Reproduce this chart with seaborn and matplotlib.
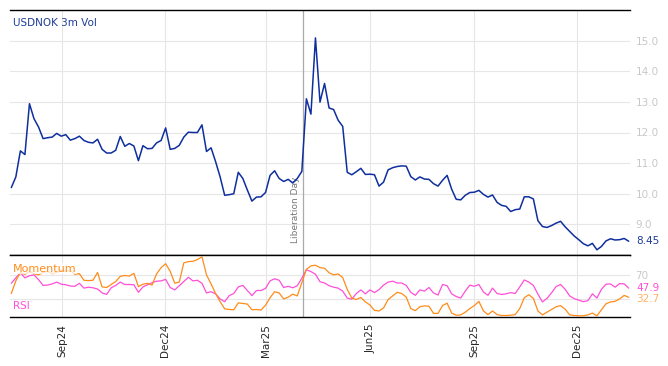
import pandas as pd
import matplotlib.pyplot as plt
import matplotlib.dates as mdates
import matplotlib.transforms as mtransforms
import seaborn as sns

# data, one point roughly every 4 days
start_date = '2024-07-18'
end_date = '2026-01-16'

vol = [10.2, 10.55, 11.4, 11.28, 12.94, 12.45, 12.18, 11.8, 11.83, 11.85,
       11.97, 11.88, 11.93, 11.75, 11.8, 11.88, 11.74, 11.68, 11.66, 11.78,
       11.45, 11.33, 11.33, 11.42, 11.87, 11.55, 11.64, 11.56, 11.08, 11.57,
       11.47, 11.48, 11.66, 11.74, 12.15, 11.45, 11.48, 11.58, 11.85, 12.01,
       12.0, 12.0, 12.25, 11.38, 11.5, 11.05, 10.55, 9.95, 9.97, 10.0,
       10.7, 10.5, 10.12, 9.76, 9.89, 9.9, 10.04, 10.6, 10.75, 10.5,
       10.4, 10.47, 10.35, 10.5, 10.73, 13.1, 12.6, 15.09, 12.99, 13.6,
       12.8, 12.75, 12.4, 12.2, 10.7, 10.62, 10.72, 10.83, 10.63, 10.64,
       10.62, 10.25, 10.38, 10.78, 10.85, 10.89, 10.91, 10.9, 10.56, 10.45,
       10.55, 10.48, 10.47, 10.33, 10.25, 10.44, 10.6, 10.15, 9.82, 9.8,
       9.95, 10.04, 10.05, 10.11, 9.98, 9.89, 9.96, 9.72, 9.62, 9.59,
       9.42, 9.48, 9.5, 9.9, 9.9, 9.83, 9.12, 8.93, 8.9, 8.96,
       9.04, 9.1, 8.92, 8.77, 8.62, 8.5, 8.37, 8.3, 8.38, 8.17,
       8.28, 8.46, 8.53, 8.49, 8.5, 8.54, 8.45]

rsi = [56, 65, 73.5, 65, 68.5, 70, 62, 52.5, 53, 55,
       58, 54.5, 53.5, 51.5, 51, 56, 48, 49.5, 48.5, 46.5,
       40, 37.5, 48.5, 52.5, 58, 54, 54, 53.5, 41, 50,
       53.5, 57, 59.5, 60, 62.5, 49, 45, 52, 59, 66,
       60, 61, 56, 40, 42, 38.5, 30, 25.5, 35.5, 39,
       50, 52.5, 44, 35.5, 44, 44, 47.5, 60, 63.5, 61,
       49, 51, 48.5, 52, 64.5, 78.5, 75.5, 71, 58.5, 56.5,
       52, 49.5, 48, 43, 31.5, 29.5, 39, 45, 38.5, 45,
       40.5, 45.5, 53, 58, 59.5, 56.5, 56.5, 52.5, 41, 36,
       45, 43, 49, 40, 36.5, 54, 52, 38.5, 34, 31.5,
       43, 53, 51, 54, 41.5, 36, 48, 39, 37.5, 38.5,
       40.5, 39, 50, 61.5, 58, 52.5, 38, 25, 31, 40,
       50.5, 54, 46, 35, 30.5, 28, 25.5, 27, 38.5, 31.5,
       46, 54.5, 55, 49.5, 55.5, 55, 47.9]

momentum = [39, 60, 74, 71, 75, 72, 70, 74, 76, 72,
            74, 78, 76, 77, 71, 72, 61, 60.5, 61, 74,
            50, 49, 54, 59, 67.5, 69, 68, 72.5, 50.5, 54.5,
            56, 53, 71.5, 82, 88.5, 76, 56, 58, 90, 92,
            92.5, 95.5, 100, 70, 55, 39, 25.5, 13.5, 12.5, 12,
            23.5, 22.5, 21.5, 12, 12.5, 11.5, 19.5, 32, 42, 40,
            30, 33, 38, 35, 57, 79, 85, 86, 82, 81,
            73.5, 70, 71.5, 65.5, 46, 31.5, 29, 32.5, 25, 20,
            11, 10, 15, 29, 35, 41, 39, 33, 14, 10.5,
            17, 18.5, 18, 6, 6, 19, 23, 6.5, 3, 3.5,
            8, 14, 19, 26, 10, 4, 10, 4, 2.5, 2.5,
            3, 4, 14, 32, 37, 31, 10, 3.5, 8, 12.5,
            17, 19, 13, 3.5, 2.5, 2, 2, 3.5, 6.5, 2,
            12, 22, 25, 26, 30, 36, 32.7]

event_date = '2025-04-02'
event_name = 'Liberation Day'

BLUE = '#0f2f9e'
ORANGE = '#ff8c1a'
MAGENTA = '#ff4fd8'
GRID = '#e6e6e6'
LIGHT = '#c8c8c8'

dates = pd.date_range(start_date, end_date, periods=len(vol))
df = pd.DataFrame({'date': dates, 'vol': vol, 'rsi': rsi, 'momentum': momentum})

sns.set_style('white')
plt.rcParams['font.family'] = ['DejaVu Sans']

fig = plt.figure(figsize=(6.68, 3.66), dpi=100)
ax1 = fig.add_axes([10 / 668, 1 - 255 / 366, 620 / 668, 245 / 366])
ax2 = fig.add_axes([10 / 668, 1 - 317 / 366, 620 / 668, 62 / 366], sharex=ax1)

sns.lineplot(data=df, x='date', y='vol', ax=ax1, color=BLUE, lw=1.1, zorder=3)
sns.lineplot(data=df, x='date', y='rsi', ax=ax2, color=MAGENTA, lw=0.9, zorder=3)
sns.lineplot(data=df, x='date', y='momentum', ax=ax2, color=ORANGE, lw=0.9, zorder=3)

pad = pd.Timedelta(days=1.15)
ax1.set_xlim(dates[0] - pad, dates[-1] + pad)
ax1.set_ylim(8, 16)
ax2.set_ylim(0, 103)

for ax in (ax1, ax2):
    ax.set_xlabel('')
    ax.set_ylabel('')
    ax.grid(True, color=GRID, lw=0.8)
    ax.set_axisbelow(True)
    for s in ('left', 'right'):
        ax.spines[s].set_visible(False)
    for s in ('top', 'bottom'):
        ax.spines[s].set_color('black')
        ax.spines[s].set_linewidth(1.0)
    ax.yaxis.tick_right()
    ax.tick_params(axis='y', length=0, labelcolor=LIGHT, labelsize=7.5, pad=4)
    ax.tick_params(axis='x', direction='in', length=4, width=1.1, color='black')
    ax.axvline(pd.Timestamp(event_date), color='#aaaaaa', lw=0.9, zorder=2)

ax1.xaxis.set_major_locator(mdates.MonthLocator(bymonth=[3, 6, 9, 12]))
ax1.xaxis.set_major_formatter(mdates.DateFormatter('%b%y'))
ax1.tick_params(axis='x', labelbottom=False)
ax2.tick_params(axis='x', labelsize=7.5, labelrotation=90, pad=5)

ax1.set_yticks(range(9, 16))
ax1.set_yticklabels([f'{v:.1f}' for v in range(9, 16)])
ax2.set_yticks([30, 70])
ax2.set_yticklabels(['', '70'])

# labels
ax1.text(0.005, 0.945, 'USDNOK 3m Vol', transform=ax1.transAxes, color='#1f3c99',
         fontsize=7.5, ha='left', va='center')
ax2.text(0.005, 0.78, 'Momentum', transform=ax2.transAxes, color=ORANGE, fontsize=8,
         ha='left', va='center', zorder=4,
         bbox=dict(facecolor='white', alpha=0.75, edgecolor='none', pad=0.5))
ax2.text(0.005, 0.18, 'RSI', transform=ax2.transAxes, color=MAGENTA, fontsize=7.5,
         ha='left', va='center')

tr1 = mtransforms.blended_transform_factory(ax1.transAxes, ax1.transData)
tr2 = mtransforms.blended_transform_factory(ax2.transAxes, ax2.transData)
ax1.text(1.01, vol[-1], f'{vol[-1]:.2f}', transform=tr1, color='#1f3c99',
         fontsize=7.5, va='center', ha='left')
ax2.text(1.01, rsi[-1], f'{rsi[-1]:.1f}', transform=tr2, color=MAGENTA,
         fontsize=7.5, va='center', ha='left')
ax2.text(1.01, momentum[-1] - 3, f'{momentum[-1]:.1f}', transform=tr2, color='#ffb266',
         fontsize=7.5, va='center', ha='left')

ax1.annotate(event_name, xy=(pd.Timestamp(event_date), 8.38), xytext=(-2, 0),
             textcoords='offset points', rotation=90, color='#777777', fontsize=6.5,
             ha='right', va='bottom', zorder=1)

fig.savefig('out.png', dpi=100)
